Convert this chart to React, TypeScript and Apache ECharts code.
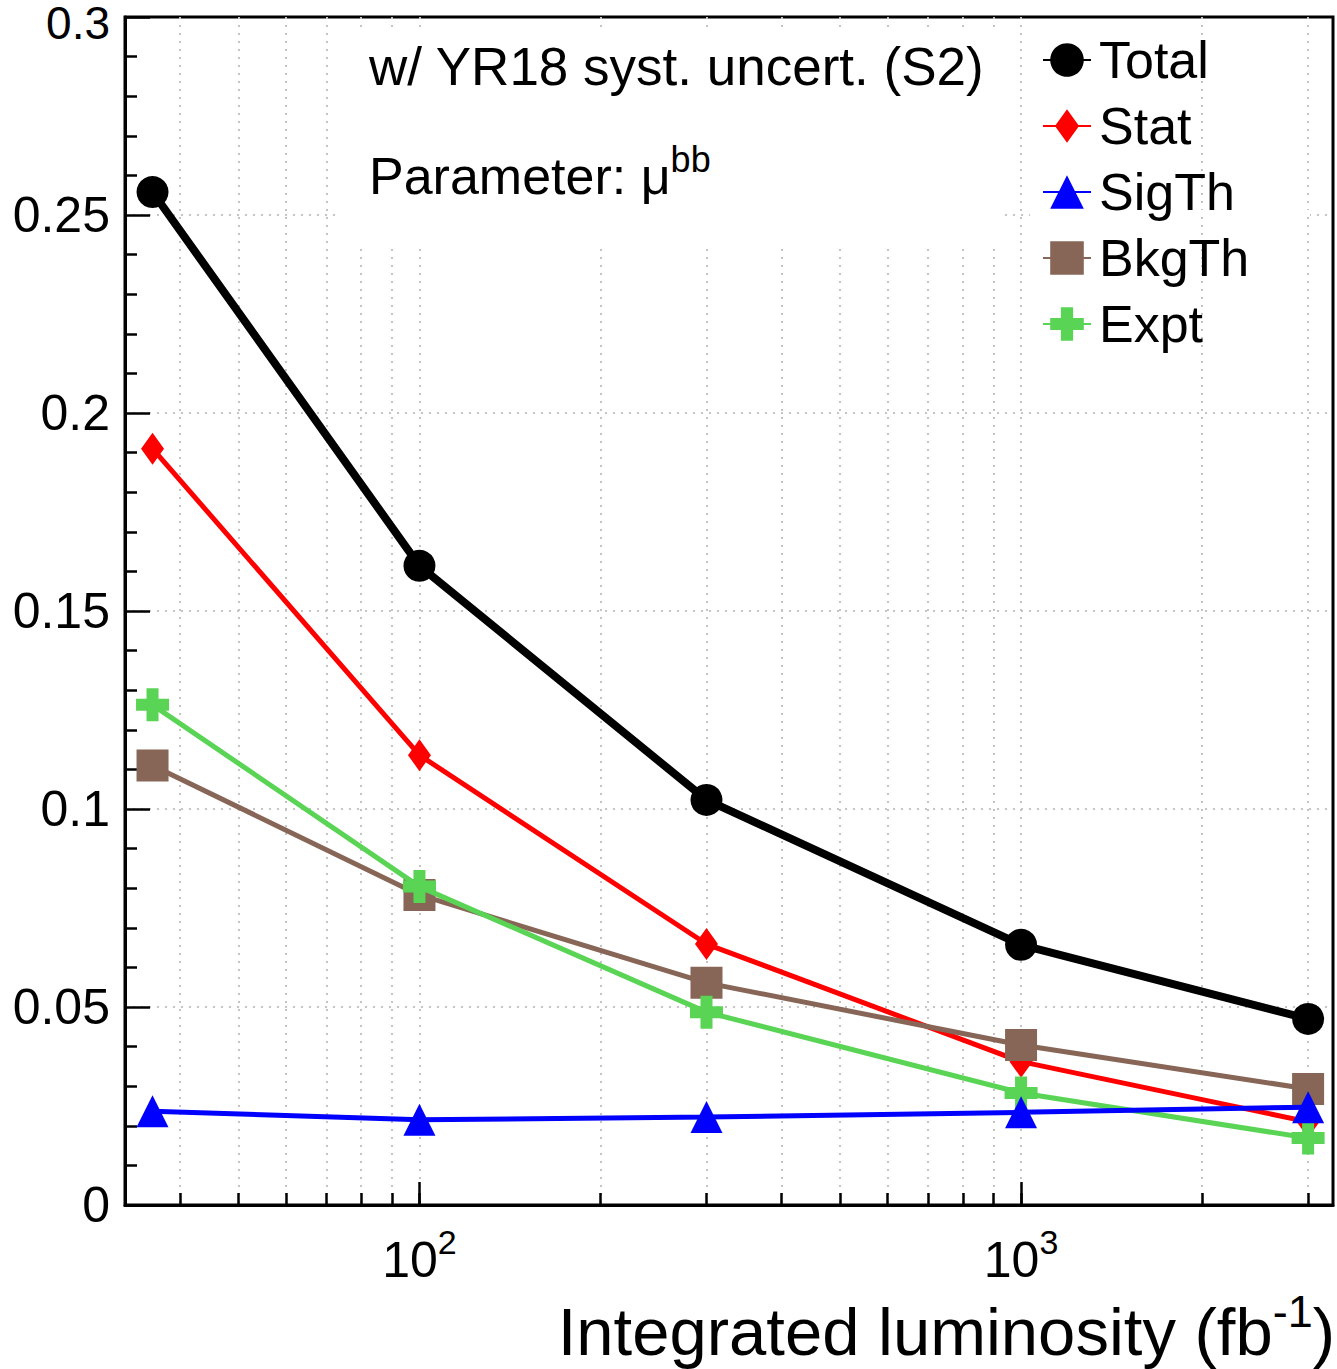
import React, { useEffect, useRef } from 'react';
import * as echarts from 'echarts';

// ---- data ----
const lumi = [36, 100, 300, 1000, 3000];
const seriesNames = ['Total', 'Stat', 'SigTh', 'BkgTh', 'Expt'];
const total = [0.2558, 0.1614, 0.1023, 0.0657, 0.047];
const stat = [0.191, 0.1136, 0.0659, 0.0362, 0.021];
const sigTh = [0.0237, 0.0215, 0.0222, 0.0234, 0.0247];
const bkgTh = [0.111, 0.0783, 0.0561, 0.0404, 0.0293];
const expt = [0.1263, 0.0804, 0.0487, 0.0283, 0.0169];

const xRange = [32.4, 3300];
const xMinorTicks = [40, 50, 60, 70, 80, 90, 200, 300, 400, 500, 600, 700, 800, 900, 2000, 3000];
const xMajorTicks = [100, 1000];
const xMajorExponents = ['2', '3'];
const yTickLabels = ['0', '0.05', '0.1', '0.15', '0.2', '0.25', '0.3'];

const FONT = '"Liberation Sans", Arial, Helvetica, sans-serif';

const diamondPath = 'path://M-16,0L-16,0.01ZM0,-16L11.5,0L0,16L-11.5,0ZM16,0L16,0.01Z';
const crossPath = 'path://M-6,-16.5L6,-16.5L6,-6L16.5,-6L16.5,6L6,6L6,16.5L-6,16.5L-6,6L-16.5,6L-16.5,-6L-6,-6Z';

export default function App() {
  const ref = useRef<HTMLDivElement>(null);

  useEffect(() => {
    if (!ref.current) return;
    const chart = echarts.init(ref.current, null, { renderer: 'svg' });
    const lg = (v: number) => Math.log10(v);
    const gridLine = { color: '#c4c4c4', width: 2, type: [2, 6] as any };
    const tickStyle = { color: '#000', width: 2.5 };

    const mk = (name: string, vals: number[], color: string, symbol: string, symbolSize: number, width: number, z: number) => ({
      name,
      type: 'line',
      xAxisIndex: 0,
      yAxisIndex: 0,
      data: lumi.map((l, i) => [lg(l), vals[i]]),
      symbol,
      symbolSize,
      showSymbol: true,
      z,
      silent: true,
      lineStyle: { color, width },
      itemStyle: { color, borderWidth: 0 },
      emphasis: { disabled: true },
    });

    chart.setOption({
      animation: false,
      backgroundColor: '#fff',
      grid: {
        left: 125,
        right: 4,
        top: 17,
        bottom: 164,
        outerBoundsMode: 'none',
        containLabel: false,
        show: true,
        borderColor: '#000',
        borderWidth: 3,
        backgroundColor: 'transparent',
      },
      legend: {
        orient: 'vertical',
        left: 1037,
        top: 29,
        itemWidth: 48,
        itemHeight: 42,
        itemGap: 14,
        selectedMode: false,
        data: seriesNames,
        textStyle: { fontSize: 52, color: '#000', fontFamily: FONT, padding: [0, 0, 0, 3] },
      },
      xAxis: [
        {
          type: 'value',
          position: 'bottom',
          min: lg(xRange[0]),
          max: lg(xRange[1]),
          axisLine: { show: true, onZero: false, lineStyle: { color: '#000', width: 3 } },
          axisTick: {
            show: true,
            inside: true,
            length: 12,
            customValues: [...xMinorTicks, ...xMajorTicks].map(lg),
            lineStyle: tickStyle,
          },
          axisLabel: { show: false },
          splitLine: { show: true, lineStyle: gridLine },
        },
        {
          type: 'value',
          position: 'bottom',
          min: lg(xRange[0]),
          max: lg(xRange[1]),
          axisLine: { show: false, onZero: false },
          axisTick: { show: true, inside: true, length: 23, customValues: xMajorTicks.map(lg), lineStyle: tickStyle },
          axisLabel: {
            show: true,
            customValues: xMajorTicks.map(lg),
            margin: 20,
            formatter: (v: number) => {
              const idx = xMajorTicks.findIndex((t) => Math.abs(lg(t) - v) < 1e-6);
              return `{b|10}{s|${xMajorExponents[idx] ?? ''}}`;
            },
            rich: {
              b: { fontSize: 50, color: '#000', fontFamily: FONT },
              s: { fontSize: 34, color: '#000', fontFamily: FONT, padding: [0, 0, 36, 0] },
            },
          },
          splitLine: { show: false },
        },
      ],
      yAxis: {
        type: 'value',
        min: 0,
        max: 0.3,
        interval: 0.05,
        axisLine: { show: true, lineStyle: { color: '#000', width: 3 } },
        axisTick: { show: true, inside: true, length: 25, lineStyle: tickStyle },
        minorTick: { show: true, splitNumber: 5, length: 12, lineStyle: tickStyle },
        axisLabel: {
          fontSize: 50,
          color: '#000',
          fontFamily: FONT,
          margin: 15,
          formatter: (v: number) => {
            const i = Math.round(v / 0.05);
            const txt = yTickLabels[i] ?? '';
            return i === yTickLabels.length - 1 ? `{t|${txt}}` : txt;
          },
          rich: {
            t: { fontSize: 46, lineHeight: 22, color: '#000', fontFamily: FONT, padding: [12, 0, 0, 0] },
          },
        },
        splitLine: { show: true, showMinLine: false, showMaxLine: false, lineStyle: gridLine },
      },
      graphic: [
        { type: 'rect', z: 1, silent: true, shape: { x: 335, y: 28, width: 665, height: 217 }, style: { fill: '#fff' } },
        { type: 'rect', z: 1, silent: true, shape: { x: 1030, y: 210, width: 280, height: 7 }, style: { fill: '#fff' } },
        {
          type: 'text',
          z: 10,
          x: 369,
          y: 66,
          style: { text: 'w/ YR18 syst. uncert. (S2)', fontSize: 53, fontFamily: FONT, fill: '#000', align: 'left', verticalAlign: 'middle' },
        },
        {
          type: 'text',
          z: 10,
          x: 369,
          y: 176,
          style: {
            text: '{a|Parameter: μ}{s|bb}',
            align: 'left',
            verticalAlign: 'middle',
            rich: {
              a: { fontSize: 52, fontFamily: FONT, fill: '#000' },
              s: { fontSize: 36, fontFamily: FONT, fill: '#000', padding: [0, 0, 34, 0] },
            },
          },
        },
        {
          type: 'text',
          z: 10,
          x: 1335,
          y: 1331,
          style: {
            text: '{a|Integrated luminosity (fb}{s|-1}{a|)}',
            align: 'right',
            verticalAlign: 'middle',
            rich: {
              a: { fontSize: 67, fontFamily: FONT, fill: '#000' },
              s: { fontSize: 45, fontFamily: FONT, fill: '#000', padding: [0, 0, 40, 0] },
            },
          },
        },
      ],
      series: [
        mk('Total', total, '#000000', 'circle', 32, 8, 3),
        mk('Stat', stat, '#ff0000', diamondPath, 32, 5, 4),
        mk('BkgTh', bkgTh, '#876657', 'rect', 32, 5, 5),
        mk('Expt', expt, '#59d454', crossPath, 33, 5, 6),
        mk('SigTh', sigTh, '#0000ff', 'triangle', 32, 5, 7),
      ],
    });

    return () => chart.dispose();
  }, []);

  return (
    <div
      ref={ref}
      style={{ position: 'fixed', left: 0, top: 0, width: 1337, height: 1369, background: '#fff' }}
    />
  );
}
